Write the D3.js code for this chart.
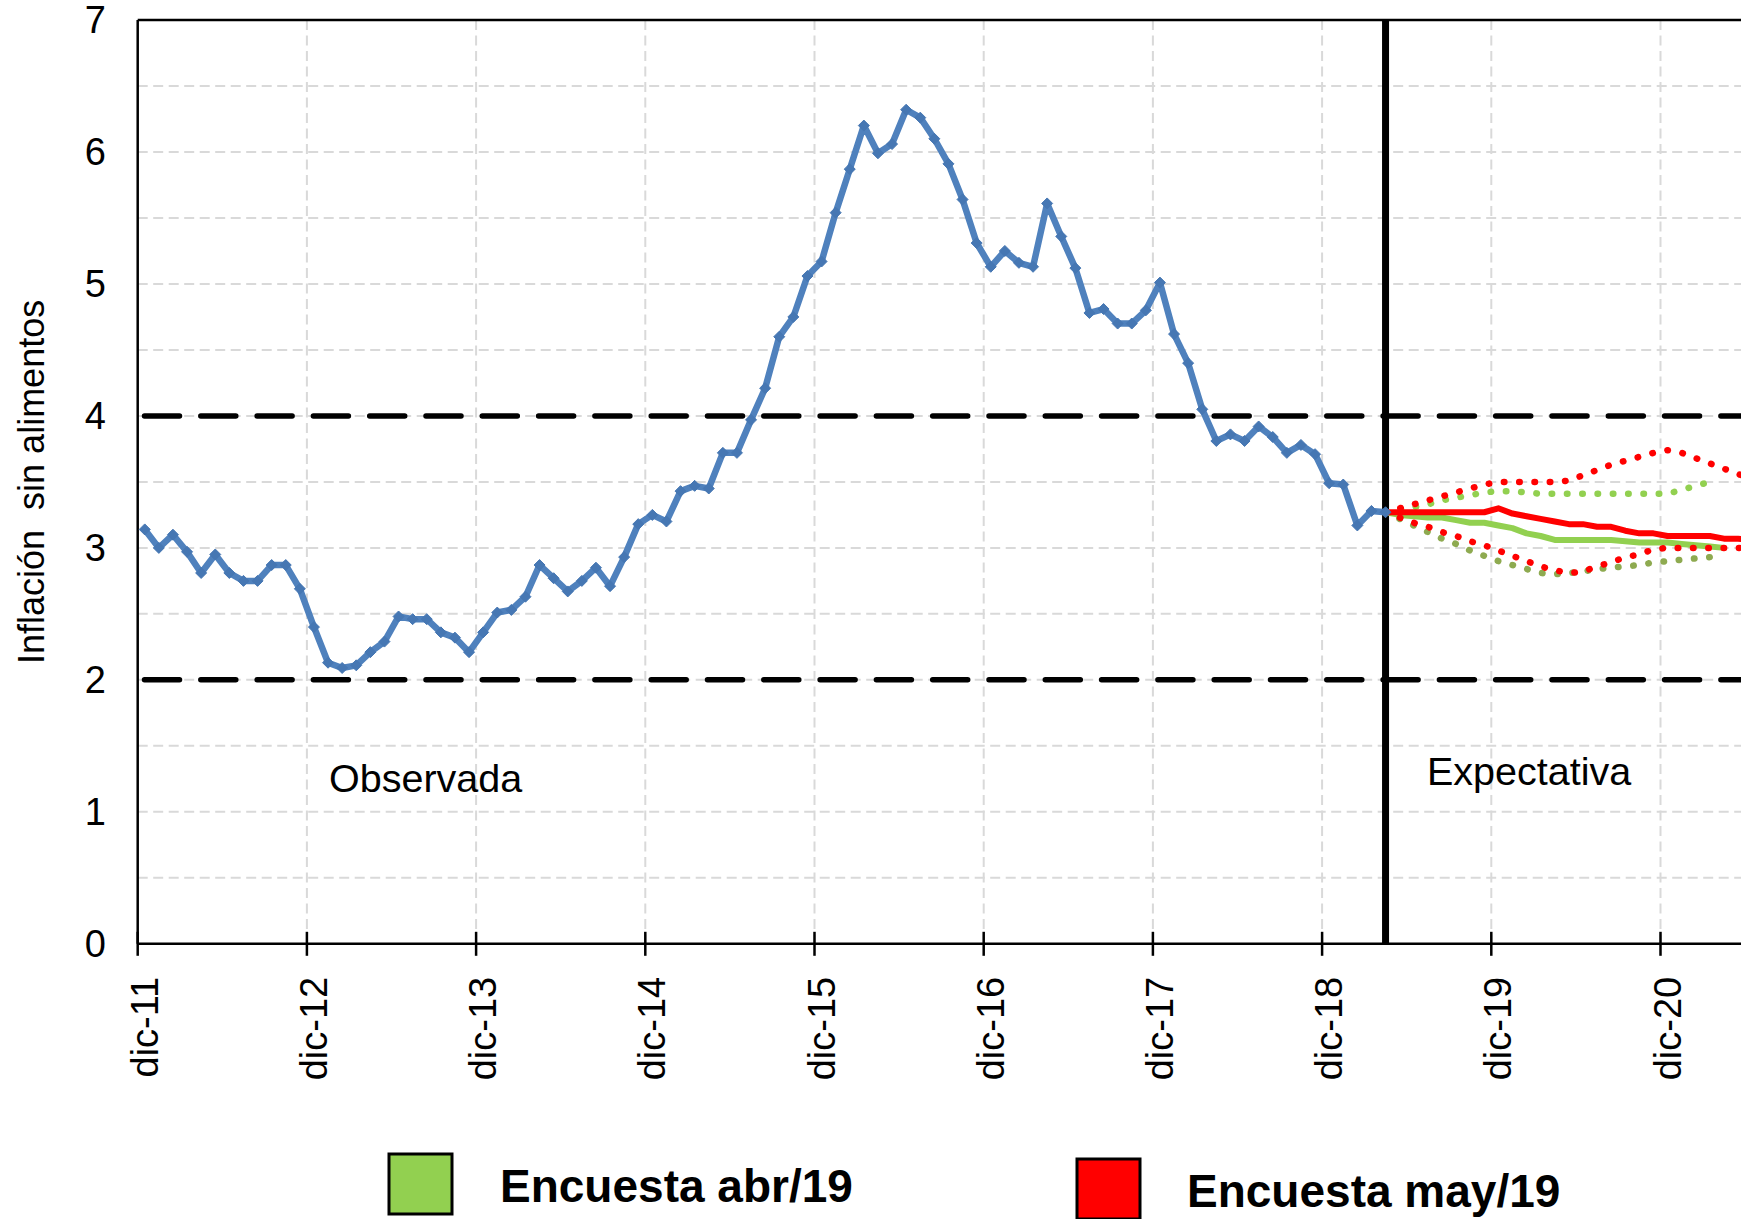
<!DOCTYPE html>
<html>
<head>
<meta charset="utf-8">
<script src="https://cdn.jsdelivr.net/npm/d3@7/dist/d3.min.js"></script>
<style>
  html, body { margin: 0; padding: 0; background: #fff; }
  svg { display: block; font-family: "Liberation Sans", Arial, sans-serif; }
</style>
</head>
<body>
<svg id="chart" width="1741" height="1219"></svg>
<script>
// ---------- DATA ----------
const monthNames = ['ene','feb','mar','abr','may','jun','jul','ago','sep','oct','nov','dic'];
// monthly categories from dic-11 through nov-21
const categories = d3.range(120).map(k => {
  const m = (11 + k) % 12;
  const yr = 11 + Math.floor((11 + k) / 12);
  return monthNames[m] + '-' + yr;
});
const tickLabels = ['dic-11','dic-12','dic-13','dic-14','dic-15','dic-16','dic-17','dic-18','dic-19','dic-20'];
const yTicks = [0,1,2,3,4,5,6,7];
const yGrid = [0.5,1,1.5,2,2.5,3,3.5,4,4.5,5,5.5,6,6.5];
const rangeLines = [2, 4];
const splitMonth = 'abr-19';

// Observed non-food inflation, monthly from dic-11 to abr-19
const observada = [
  3.14,3.00,3.10,2.97,2.81,2.95,2.81,2.75,2.75,2.87,2.87,2.69,
  2.40,2.13,2.09,2.11,2.21,2.29,2.48,2.46,2.46,2.36,2.32,2.21,
  2.36,2.51,2.53,2.63,2.87,2.77,2.67,2.75,2.85,2.71,2.93,3.18,
  3.25,3.20,3.43,3.47,3.45,3.72,3.72,3.97,4.21,4.60,4.75,5.06,
  5.17,5.54,5.87,6.20,5.99,6.06,6.32,6.26,6.10,5.91,5.64,5.31,
  5.13,5.25,5.16,5.13,5.61,5.36,5.12,4.78,4.81,4.70,4.70,4.80,
  5.01,4.62,4.40,4.05,3.81,3.86,3.81,3.92,3.84,3.72,3.78,3.71,
  3.49,3.48,3.17,3.28,3.27
];

// Expectations, monthly starting at abr-19
const abrCentral = [3.27,3.25,3.24,3.23,3.23,3.21,3.19,3.19,3.17,3.15,3.11,3.09,3.06,3.06,3.06,3.06,3.06,3.05,3.04,3.04,3.04,3.03,3.02,3.01,3.00];
const abrUpper   = [3.27,3.29,3.31,3.33,3.36,3.38,3.40,3.42,3.43,3.43,3.42,3.41,3.41,3.41,3.41,3.41,3.41,3.41,3.41,3.41,3.41,3.44,3.47,3.50];
const abrLower   = [3.27,3.22,3.17,3.12,3.07,3.03,2.98,2.94,2.90,2.87,2.84,2.81,2.80,2.81,2.82,2.84,2.85,2.86,2.87,2.89,2.90,2.91,2.92,2.93,2.94];
const mayCentral = [3.27,3.27,3.27,3.27,3.27,3.27,3.27,3.27,3.30,3.26,3.24,3.22,3.20,3.18,3.18,3.16,3.16,3.13,3.11,3.11,3.09,3.09,3.09,3.09,3.07,3.07,3.06];
const mayUpper   = [3.27,3.30,3.33,3.36,3.39,3.42,3.45,3.48,3.50,3.50,3.50,3.50,3.50,3.51,3.55,3.59,3.63,3.66,3.69,3.72,3.74,3.72,3.68,3.64,3.60,3.56,3.52];
const mayLower   = [3.27,3.23,3.19,3.16,3.12,3.09,3.05,3.02,2.98,2.94,2.90,2.86,2.83,2.81,2.82,2.86,2.89,2.93,2.95,2.99,3.00,3.00,3.00,3.00,3.00,3.00,3.00];

const legendItems = ['Encuesta abr/19', 'Encuesta may/19'];

// ---------- LAYOUT ----------
(function () {
const W = 1741, H = 1219;
const pL = 137.7, pT = 20, pB = 943.8;
const monthW = 14.1;
const colors = { obs: '#4f81bd', obsMk: '#4677b3', abr: '#92d050', abrLow: '#8eaa50', may: '#ff0000' };

const svg = d3.select('#chart');
svg.append('rect').attr('width', W).attr('height', H).attr('fill', '#fff');

const x = d3.scaleBand().domain(categories)
  .range([pL, pL + categories.length * monthW]).paddingInner(0).paddingOuter(0);
const y = d3.scaleLinear().domain([0, 7]).range([pB, pT]);
const cx = c => x(c) + x.bandwidth() / 2;
const pR = x.range()[1];

// gridlines
const grid = svg.append('g');
grid.selectAll('line.h').data(yGrid).join('line')
  .attr('x1', pL).attr('x2', pR)
  .attr('y1', d => y(d)).attr('y2', d => y(d))
  .attr('stroke', '#d9d9d9').attr('stroke-width', 2).attr('stroke-dasharray', '10 5.5');
grid.selectAll('line.v').data(tickLabels.slice(1)).join('line')
  .attr('x1', d => x(d)).attr('x2', d => x(d))
  .attr('y1', pT).attr('y2', pB)
  .attr('stroke', '#d9d9d9').attr('stroke-width', 2).attr('stroke-dasharray', '10 5.5');

// target range dashed lines
svg.append('g').selectAll('line').data(rangeLines).join('line')
  .attr('x1', pL + 6.8).attr('x2', pR)
  .attr('y1', d => y(d)).attr('y2', d => y(d))
  .attr('stroke', '#000').attr('stroke-width', 5.5)
  .attr('stroke-linecap', 'round').attr('stroke-dasharray', '35 21.3');

// frame: top border, left axis, bottom axis
svg.append('line').attr('x1', pL).attr('x2', pR).attr('y1', y(7)).attr('y2', y(7))
  .attr('stroke', '#000').attr('stroke-width', 2.5);
svg.append('line').attr('x1', pL).attr('x2', pL).attr('y1', y(7)).attr('y2', y(0))
  .attr('stroke', '#000').attr('stroke-width', 2.5);
svg.append('line').attr('x1', pL).attr('x2', pR).attr('y1', y(0)).attr('y2', y(0))
  .attr('stroke', '#000').attr('stroke-width', 2.5);

// x ticks & labels
svg.append('g').selectAll('line').data(tickLabels).join('line')
  .attr('x1', d => x(d)).attr('x2', d => x(d))
  .attr('y1', y(0) - 12).attr('y2', y(0) + 12)
  .attr('stroke', '#000').attr('stroke-width', 2.5);
svg.append('g').selectAll('text').data(tickLabels).join('text')
  .attr('transform', d => `translate(${x(d) + 20},${y(0) + 33}) rotate(-90)`)
  .attr('text-anchor', 'end')
  .attr('font-size', 38).attr('fill', '#000')
  .text(d => d);

// y labels
svg.append('g').selectAll('text').data(yTicks).join('text')
  .attr('x', 106).attr('y', d => y(d)).attr('dy', '0.35em')
  .attr('text-anchor', 'end').attr('font-size', 38).attr('fill', '#000')
  .text(d => d);

// y axis title
svg.append('text')
  .attr('transform', `translate(44,${(y(0) + y(7)) / 2}) rotate(-90)`)
  .attr('text-anchor', 'middle').attr('font-size', 36).attr('fill', '#000')
  .style('white-space', 'pre')
  .text('Inflación  sin alimentos');

// vertical separator
svg.append('line')
  .attr('x1', cx(splitMonth)).attr('x2', cx(splitMonth))
  .attr('y1', y(7)).attr('y2', y(0))
  .attr('stroke', '#000').attr('stroke-width', 7);

// annotations
svg.append('text').attr('x', 329).attr('y', y(1.15)).attr('font-size', 39.5).attr('fill', '#000').text('Observada');
svg.append('text').attr('x', 1427).attr('y', y(1.2)).attr('font-size', 39.5).attr('fill', '#000').text('Expectativa');

// series
const line = d3.line().x(d => cx(d.c)).y(d => y(d.v));
const startIdx = categories.indexOf(splitMonth);
const toPts = (arr, s) => arr.map((v, i) => ({ c: categories[s + i], v }));

const plot = svg.append('g');
function drawLine(arr, s, color, width, dotted) {
  const p = plot.append('path').datum(toPts(arr, s))
    .attr('d', line).attr('fill', 'none')
    .attr('stroke', color).attr('stroke-width', width)
    .attr('stroke-linejoin', 'round');
  if (dotted) p.attr('stroke-linecap', 'round').attr('stroke-dasharray', '0.5 14.8');
  return p;
}
drawLine(abrUpper, startIdx, colors.abr, 6.5, true);
drawLine(abrLower, startIdx, colors.abrLow, 6.5, true);
drawLine(abrCentral, startIdx, colors.abr, 6, false);
drawLine(mayUpper, startIdx, colors.may, 6.5, true);
drawLine(mayLower, startIdx, colors.may, 6.5, true);
drawLine(mayCentral, startIdx, colors.may, 6, false);

drawLine(observada, 0, colors.obs, 6.5, false);
const dr = 5.5;
plot.append('g').selectAll('path').data(toPts(observada, 0)).join('path')
  .attr('transform', d => `translate(${cx(d.c)},${y(d.v)})`)
  .attr('d', `M0,${-dr}L${dr},0L0,${dr}L${-dr},0Z`)
  .attr('fill', colors.obsMk).attr('stroke', colors.obsMk).attr('stroke-width', 1);

// legend
const legX = [389, 1077], legY = [1154, 1159], legTextX = [500, 1187], legBase = [1202, 1207];
const legColors = [colors.abr, colors.may];
legendItems.forEach((t, i) => {
  svg.append('rect').attr('x', legX[i]).attr('y', legY[i]).attr('width', 63).attr('height', 60)
    .attr('fill', legColors[i]).attr('stroke', '#000').attr('stroke-width', 3);
  svg.append('text').attr('x', legTextX[i]).attr('y', legBase[i])
    .attr('font-size', 46).attr('font-weight', 'bold').attr('fill', '#000').text(t);
});
})();
</script>
</body>
</html>
